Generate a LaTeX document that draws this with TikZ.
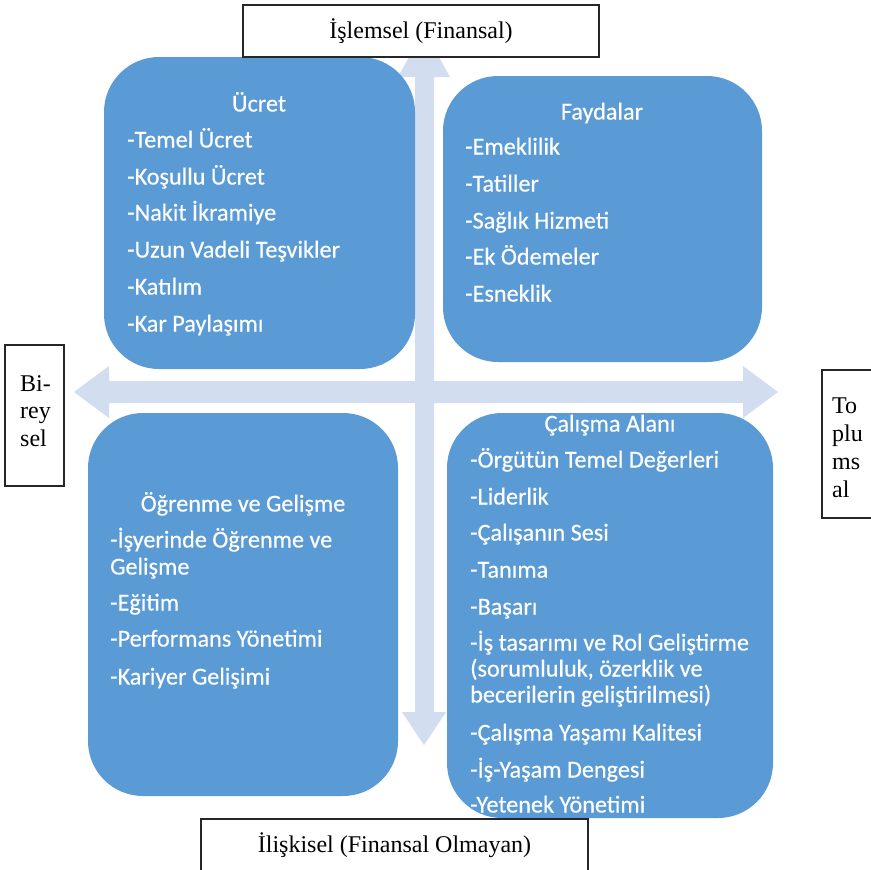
\documentclass[tikz,border=0pt]{standalone}
\usepackage{fontspec}
\setmainfont{Liberation Serif}
\newfontfamily\calfont[FakeBold=0.4]{Carlito}
\definecolor{blobblue}{HTML}{5B9BD5}
\definecolor{arrowgray}{HTML}{D2DDEF}
\begin{document}
\begin{tikzpicture}[x=1pt,y=-1pt,
  blob/.style={fill=blobblue, rounded corners=55pt, inner sep=0pt},
  itm/.style={anchor=base west, inner sep=0pt, text=white, font=\calfont\fontsize{24.2}{28}\selectfont},
  ttl/.style={anchor=base, inner sep=0pt, text=white, font=\calfont\fontsize{24.2}{28}\selectfont},
  lbox/.style={draw=black!85, line width=1.3pt, fill=white},
  lbl/.style={inner sep=0pt, font=\fontsize{24}{27}\selectfont},
  side/.style={anchor=base west, inner sep=0pt, font=\fontsize{24}{27}\selectfont}]
\useasboundingbox (0,0) rectangle (871,870);
\fill[white] (0,0) rectangle (871,870);

% arrows
\fill[arrowgray] (74,392) -- (109,366) -- (109,381) -- (743,381) -- (743,366) -- (778,392)
  -- (743,418) -- (743,403) -- (109,403) -- (109,418) -- cycle;
\fill[arrowgray] (424,30) -- (450,77) -- (434,77) -- (434,712) -- (446,712) -- (424,745)
  -- (402,712) -- (415,712) -- (415,77) -- (398,77) -- cycle;

% blobs
\node[blob, minimum width=311pt, minimum height=312pt] (ucret) at (259.5,213) {};
\node[blob, minimum width=319pt, minimum height=286pt] (fayda) at (602.5,219) {};
\node[blob, minimum width=310pt, minimum height=383pt] (ogren) at (243,604.5) {};
\node[blob, minimum width=326pt, minimum height=405pt] (calis) at (610,615.5) {};

% Ücret
\node[ttl] (u0) at (259,111.5) {Ücret};
\node[itm] (u1) at (127,147.5) {-Temel Ücret};
\node[itm] (u2) at (127,184.5) {-Koşullu Ücret};
\node[itm] (u3) at (127,220.5) {-Nakit İkramiye};
\node[itm] (u4) at (127,257.5) {-Uzun Vadeli Teşvikler};
\node[itm] (u5) at (127,294.5) {-Katılım};
\node[itm] (u6) at (127,331.5) {-Kar Paylaşımı};

% Faydalar
\node[ttl] (f0) at (602,119.5) {Faydalar};
\node[itm] (f1) at (465,154.5) {-Emeklilik};
\node[itm] (f2) at (465,191.5) {-Tatiller};
\node[itm] (f3) at (465,228.5) {-Sağlık Hizmeti};
\node[itm] (f4) at (465,264.5) {-Ek Ödemeler};
\node[itm] (f5) at (465,301.5) {-Esneklik};

% Öğrenme ve Gelişme
\node[ttl] (o0) at (243,511.5) {Öğrenme ve Gelişme};
\node[itm] (o1) at (110,547.5) {-İşyerinde Öğrenme ve};
\node[itm] (o2) at (110,574.5) {Gelişme};
\node[itm] (o3) at (110,610.5) {-Eğitim};
\node[itm] (o4) at (110,646.5) {-Performans Yönetimi};
\node[itm] (o5) at (110,684.5) {-Kariyer Gelişimi};

% Çalışma Alanı
\node[ttl] (c0) at (610,431.5) {Çalışma Alanı};
\node[itm] (c1) at (470,467.5) {-Örgütün Temel Değerleri};
\node[itm] (c2) at (470,504.5) {-Liderlik};
\node[itm] (c3) at (470,540.5) {-Çalışanın Sesi};
\node[itm] (c4) at (470,577.5) {-Tanıma};
\node[itm] (c5) at (470,614.5) {-Başarı};
\node[itm] (c6) at (470,650.5) {-İş tasarımı ve Rol Geliştirme};
\node[itm] (c7) at (470,676.5) {(sorumluluk, özerklik ve};
\node[itm] (c8) at (470,702.5) {becerilerin geliştirilmesi)};
\node[itm] (c9) at (470,740.5) {-Çalışma Yaşamı Kalitesi};
\node[itm] (c10) at (470,777.5) {-İş-Yaşam Dengesi};
\node[itm] (c11) at (470,812.5) {-Yetenek Yönetimi};

% label boxes
\node[lbox, lbl, minimum width=356pt, minimum height=52pt] (top) at (421,31) {İşlemsel (Finansal)};
\draw[lbox] (201,819) rectangle (588,885);
\node[lbl] (bottom) at (394.5,845) {İlişkisel (Finansal Olmayan)};
\draw[lbox] (5,345) rectangle (64,486);
\node[side] (l1) at (20,391) {Bi-};
\node[side] (l2) at (20,418.5) {rey};
\node[side] (l3) at (20,446) {sel};
\draw[lbox] (822,370) rectangle (885,518);
\node[side] (r1) at (832,413) {To};
\node[side] (r2) at (832,441) {plu};
\node[side] (r3) at (832,469) {ms};
\node[side] (r4) at (832,497) {al};
\end{tikzpicture}
\end{document}
